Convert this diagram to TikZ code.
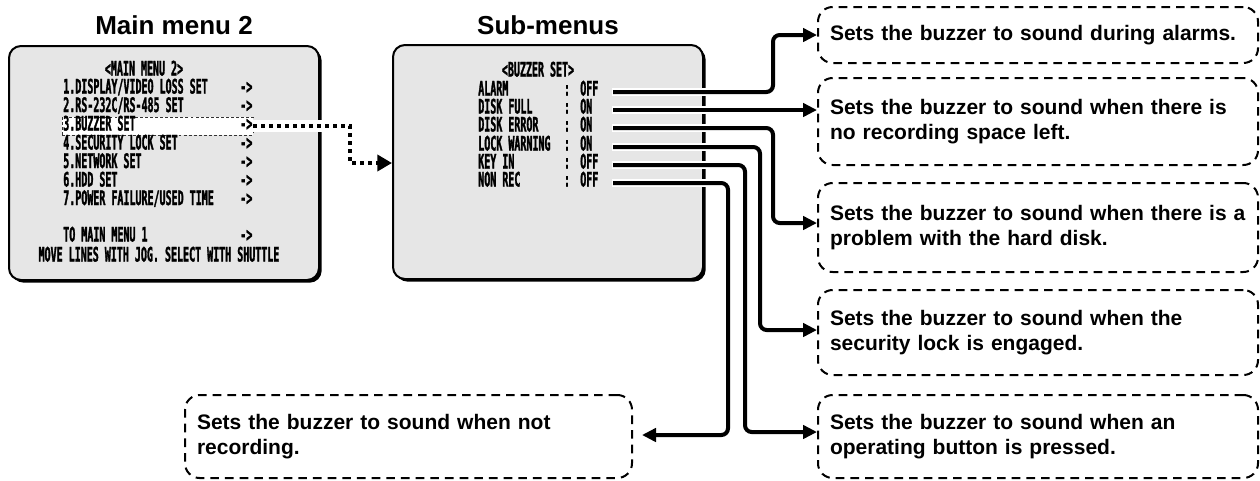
\documentclass[tikz,border=0pt]{standalone}
\usepackage{fontspec}
\setmainfont{Liberation Sans}
\newfontfamily\osdfont[FakeStretch=0.5, FakeBold=1.5, UprightFont={DejaVu Sans Mono Bold}, BoldFont={DejaVu Sans Mono Bold}]{DejaVu Sans Mono}
\usetikzlibrary{arrows.meta,shadows}
\definecolor{scr}{RGB}{230,230,230}
\begin{document}
\begin{tikzpicture}[x=0.75pt,y=-0.75pt,
  title/.style={font=\bfseries\fontsize{19.5}{22}\selectfont, inner sep=0pt},
  screen/.style={draw=black, fill=scr, line width=1.5pt, rounded corners=9pt, minimum width=232.5pt, minimum height=175.5pt, inner sep=0pt, drop shadow={shadow xshift=2pt, shadow yshift=-2pt, opacity=1, fill=black}},
  osd/.style={font=\osdfont\fontsize{15}{15}\selectfont, inner sep=0pt, anchor=mid west},
  osdc/.style={osd, anchor=mid},
  hlbox/.style={draw=black!80, fill=white, line width=0.6pt, dash pattern=on 2.2pt off 1.6pt, minimum width=143.25pt, minimum height=13.5pt, inner sep=0pt},
  desc/.style={draw=black, line width=1.5pt, dash pattern=on 6.5pt off 4.5pt, rounded corners=11pt, font=\bfseries\fontsize{15.75}{18.75}\selectfont, align=left, inner xsep=9pt, inner ysep=0pt, text width=312pt},
  conn/.style={line width=3pt, rounded corners=5pt, -{Triangle[length=10.5pt,width=10pt]}},
  halo/.style={line width=6.5pt, white},
  dotline/.style={line width=3pt, dash pattern=on 3pt off 3pt, -{Triangle[length=11pt,width=12pt]}}
]
\useasboundingbox (0,0) rectangle (1260,480);

% titles
\node[title] (t1) at (174,25) {Main menu 2};
\node[title] (t2) at (548,25) {Sub-menus};

% screens
\node[screen] (mm) at (164,163) {};
\node[screen] (sm) at (548,162) {};

% main menu text
\node[osdc] (mh) at (144,72) {<MAIN MENU 2>};
\node[hlbox] (hl) at (157.5,126) {};
\node[osd] (m1) at (63,90) {1.DISPLAY/VIDEO LOSS SET};
\node[osd] (m2) at (63,108.5) {2.RS-232C/RS-485 SET};
\node[osd] (m3) at (63,127) {3.BUZZER SET};
\node[osd] (m4) at (63,146) {4.SECURITY LOCK SET};
\node[osd] (m5) at (63,164.5) {5.NETWORK SET};
\node[osd] (m6) at (63,183) {6.HDD SET};
\node[osd] (m7) at (63,201.5) {7.POWER FAILURE/USED TIME};
\node[osd] (m8) at (63,238) {TO MAIN MENU 1};
\node[osdc] (m9) at (159,258) {MOVE LINES WITH JOG. SELECT WITH SHUTTLE};
\foreach \yy/\nm in {90/a1,108.5/a2,127/a3,146/a4,164.5/a5,183/a6,201.5/a7,238/a8}
  \node[osd] (\nm) at (240,\yy) {->};

% sub menu text
\node[osdc] (sh) at (538,73) {<BUZZER SET>};
\foreach \yy/\lab/\val/\nm in {92/ALARM/OFF/r1,110/DISK FULL/ON/r2,128/DISK ERROR/ON/r3,147/LOCK WARNING/ON/r4,165/KEY IN/OFF/r5,183/NON REC/OFF/r6}{
  \node[osd] (\nm l) at (478,\yy) {\lab};
  \node[osdc] (\nm c) at (567,\yy) {:};
  \node[osd] (\nm v) at (580,\yy) {\val};
}

% description boxes
\node[desc, minimum height=42pt] (b1) at (1038,35) {Sets the buzzer to sound during alarms.};
\node[desc, minimum height=65.25pt] (b2) at (1038,121.5) {Sets the buzzer to sound when there is\\no recording space left.};
\node[desc, minimum height=66.75pt] (b3) at (1038,227.5) {Sets the buzzer to sound when there is a\\problem with the hard disk.};
\node[desc, minimum height=63.75pt] (b4) at (1038,332.5) {Sets the buzzer to sound when the\\security lock is engaged.};
\node[desc, minimum height=62.25pt] (b5) at (1038,436.5) {Sets the buzzer to sound when an\\operating button is pressed.};
\node[desc, minimum height=62.25pt, text width=317.25pt] (b6) at (408.5,436.5) {Sets the buzzer to sound when not\\recording.};

% connector starts and helper coordinates
\coordinate (s1) at (613,92);
\coordinate (s2) at (613,110);
\coordinate (s3) at (613,128);
\coordinate (s4) at (613,147);
\coordinate (s5) at (613,165);
\coordinate (s6) at (613,183);
\coordinate (y0) at (0,163);
\coordinate (y3) at (0,223);
\coordinate (y4) at (0,330);
\coordinate (y5) at (0,432);
\coordinate (t6) at (642,435);

% dotted link
\draw[white, line width=9pt] (hl.east) -- (323,126);
\draw[dotline] (hl.east) -- (350,126) -- (350,163) -- (sm.west |- y0);

% halos
\foreach \s in {s1,s2,s3,s4,s5,s6}
  \draw[halo] (\s) ++(-1,0) -- ++(100,0);

% connectors
\draw[conn] (s1) -- (773,92) -- (773,35) -- (b1.west);
\draw[conn] (s2) -- (s2 -| b2.west);
\draw[conn] (s3) -- (773,128) -- (773,223) -- (b3.west |- y3);
\draw[conn] (s4) -- (760,147) -- (760,330) -- (b4.west |- y4);
\draw[conn] (s5) -- (745,165) -- (745,432) -- (b5.west |- y5);
\draw[conn] (s6) -- (728,183) -- (728,435) -- (t6);
\end{tikzpicture}
\end{document}
